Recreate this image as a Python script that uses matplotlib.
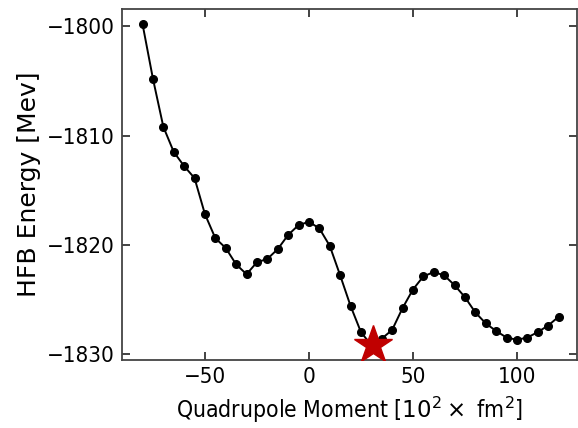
import numpy as np
import matplotlib
matplotlib.use("Agg")
import matplotlib.pyplot as plt

# quadrupole moment grid [10^2 fm^2]
q2 = list(range(-80, 125, 5))
energy = [
    -1799.8, -1804.8, -1809.2, -1811.5, -1812.8, -1813.9, -1817.2, -1819.4,
    -1820.3, -1821.8, -1822.7, -1821.6, -1821.3, -1820.4, -1819.1, -1818.2,
    -1817.9, -1818.5, -1820.1, -1822.8, -1825.6, -1828.0, -1829.2, -1828.6,
    -1827.8, -1825.8, -1824.1, -1822.9, -1822.5, -1822.8, -1823.7, -1824.8,
    -1826.2, -1827.2, -1827.9, -1828.5, -1828.7, -1828.5, -1828.0, -1827.4,
    -1826.6,
]
gs_q2 = [31]
gs_energy = [-1829.2]

fig = plt.figure(figsize=(5.78, 4.28), dpi=100)
ax = fig.add_axes([0.211, 0.159, 0.787, 0.819])

ax.plot(q2, energy, color="black", lw=1.4, marker="o", ms=5.5, zorder=2)
ax.plot(gs_q2, gs_energy, ls="none", marker="*", ms=29, color="#c00000",
        mec="#c00000", zorder=3)

ax.set_xlim(-89.9, 128.8)
ax.set_ylim(-1830.55, -1798.45)
ax.set_xticks([-50, 0, 50, 100])
ax.set_yticks([-1800, -1810, -1820, -1830])

ax.tick_params(direction="in", length=6, width=1.2, top=True, right=True,
               labelsize=16, color="#222222", pad=5)
for lab in ax.get_xticklabels() + ax.get_yticklabels():
    lab.set_fontstretch("condensed")
for s in ax.spines.values():
    s.set_color("#444444")
    s.set_linewidth(1.3)

ax.set_xlabel(r"Quadrupole Moment [$10^2\times$ fm$^2$]", fontsize=16.5,
              fontstretch="condensed", labelpad=6)
ax.set_ylabel("HFB Energy [Mev]", fontsize=18, labelpad=4)

fig.savefig("out.png", dpi=100)
